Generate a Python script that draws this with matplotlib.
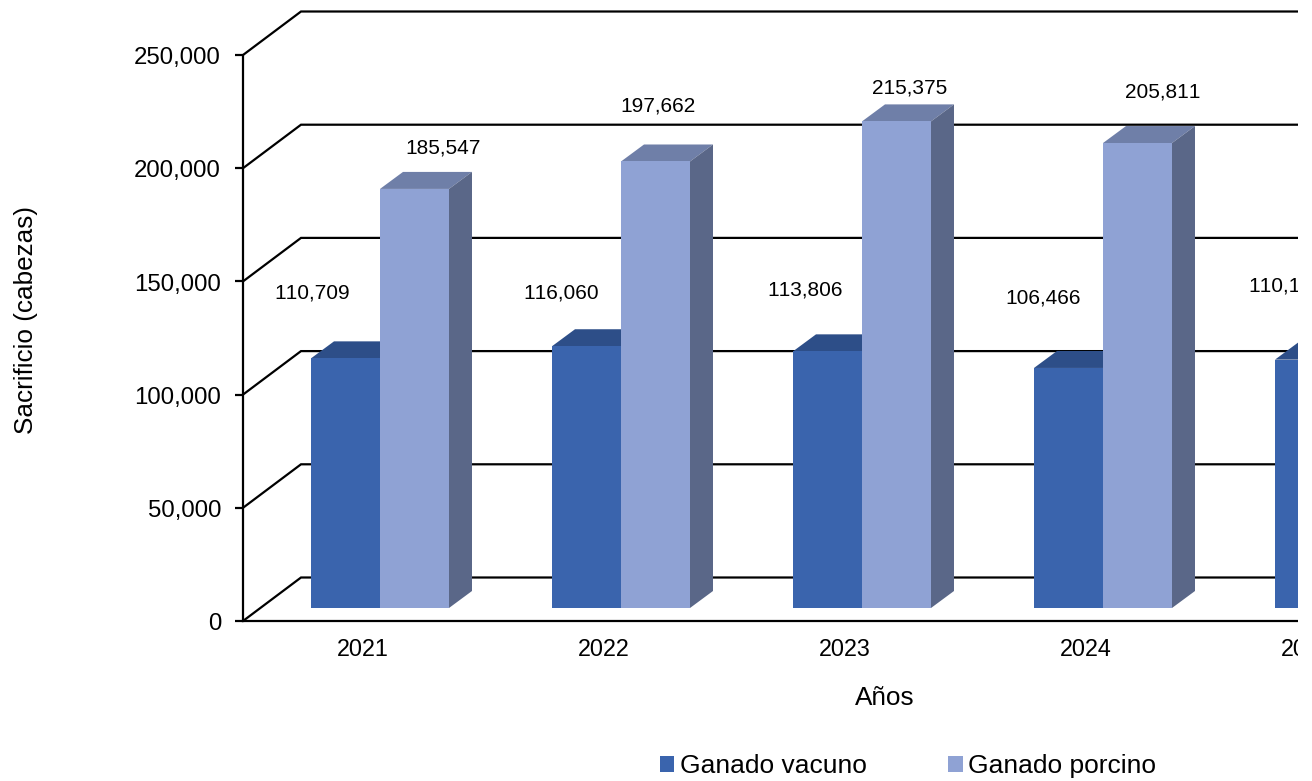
import matplotlib
matplotlib.use("Agg")
import matplotlib.pyplot as plt
from matplotlib.patches import Polygon, Rectangle, Patch
from matplotlib.ticker import FuncFormatter
from matplotlib.transforms import ScaledTranslation

W, H = 1312, 781

years = ["2021", "2022", "2023", "2024", "2025"]
vacuno = [110709, 116060, 113806, 106466, 110150]
porcino = [185547, 197662, 215375, 205811]
y_ticks = [0, 50000, 100000, 150000, 200000, 250000]

# hand placed data labels in the original, offset from the bar top in pixels
off_vacuno = [(-33, 64), (-25, 52), (-22, 60), (-25, 69), (-23, 73)]
off_porcino = [(29, 40), (3, 54), (13, 32), (25, 50)]
off_years = [1, 1, 1, 1, -19]

dark = ("#3A64AD", "#2D4E88", "#2D4E88")
light = ("#8FA2D4", "#6F7FA8", "#5A6788")

plt.rcParams["font.family"] = ["Liberation Sans", "DejaVu Sans"]
plt.rcParams["text.kerning_factor"] = 8

fig = plt.figure(figsize=(W / 100, H / 100), dpi=100)
ax = fig.add_axes([243 / W, 1 - 621 / H, (1298 - 243) / W, 621 / H])

# pixels to data units
px_x = 1 / 241
px_y = 50000 / 113.2
xl, xr = (243 - 362) * px_x, (1298 - 362) * px_x


def draw_bar(x, value, width, colors):
    front, top, side = colors
    base = 13 * px_y
    dx, dy = 23 * px_x, 17 * px_y
    # bars stand a little in front of the wall, so they come out about 1px shorter
    h = value - 1 * px_y
    y1 = base + h
    x1 = x + width
    ax.add_patch(Polygon([(x, y1), (x1, y1), (x1 + dx, y1 + dy), (x + dx, y1 + dy)],
                         fc=top, ec="none", zorder=3))
    ax.add_patch(Polygon([(x1, base), (x1 + dx, base + dy), (x1 + dx, y1 + dy), (x1, y1)],
                         fc=side, ec="none", zorder=3))
    ax.add_patch(Rectangle((x, base), width, h, fc=front, ec="none", zorder=4))


# back wall and floor lines
for v in y_ticks:
    ax.plot([xl, xl + 58 * px_x, xr], [v, v + 43.5 * px_y, v + 43.5 * px_y],
            color="black", lw=1.6, zorder=1, solid_joinstyle="miter")

bar_w = 69 * px_x
for i, v in enumerate(vacuno):
    x = i - 51 * px_x
    draw_bar(x, v, bar_w, dark)
    ax.annotate(f"{v:,}", (x + bar_w / 2, v + 13 * px_y), xytext=off_vacuno[i],
                textcoords="offset pixels", ha="center", va="center",
                fontsize=15, annotation_clip=False, zorder=6)
for i, v in enumerate(porcino):
    x = i + 18 * px_x
    draw_bar(x, v, bar_w, light)
    ax.annotate(f"{v:,}", (x + bar_w / 2, v + 13 * px_y), xytext=off_porcino[i],
                textcoords="offset pixels", ha="center", va="center",
                fontsize=15, annotation_clip=False, zorder=6)

# years as annotations: the last one sits past the right edge and a tick would be dropped
ax.set_xticks([])
for i, year in enumerate(years):
    ax.annotate(year, (i, 0), xytext=(off_years[i], -29), textcoords="offset pixels",
                ha="center", va="center", fontsize=16.8, annotation_clip=False)

ax.set_yticks(y_ticks)
ax.set_xlim(xl, xr)
ax.set_ylim(0, 621 * px_y)
ax.yaxis.set_major_formatter(FuncFormatter(lambda v, _: f"{int(v):,}"))
ax.tick_params(axis="y", length=5.8, width=1.6, labelsize=17.3, pad=10)
shift = ScaledTranslation(0, -0.5 / 72, fig.dpi_scale_trans)
for lab in ax.get_yticklabels():
    lab.set_transform(lab.get_transform() + shift)
for s in ["top", "right"]:
    ax.spines[s].set_visible(False)
ax.spines["left"].set_bounds(0, 250000)
ax.spines["left"].set_linewidth(1.6)
ax.spines["bottom"].set_linewidth(1.6)

fig.text(885 / W, 1 - 698 / H, "Años", fontsize=18.8, ha="center", va="center")
fig.text(26 / W, 1 - 320 / H, "Sacrificio (cabezas)", fontsize=18.8,
         rotation=90, ha="center", va="center")

handles = [Patch(fc=dark[0], ec="none"), Patch(fc=light[0], ec="none")]
fig.legend(handles, ["Ganado vacuno", "Ganado porcino"], ncol=2, frameon=False,
           loc="center", bbox_to_anchor=(908 / W, 1 - 766 / H), fontsize=19,
           handlelength=0.55, handleheight=0.55, handletextpad=0.2,
           columnspacing=3.1, borderpad=0)

# the source image is cut off on the right
fig.add_artist(Rectangle((1298 / W, 0), 14 / W, 1, transform=fig.transFigure,
                         fc="white", ec="none", zorder=10))

fig.savefig("out.png", dpi=100)
